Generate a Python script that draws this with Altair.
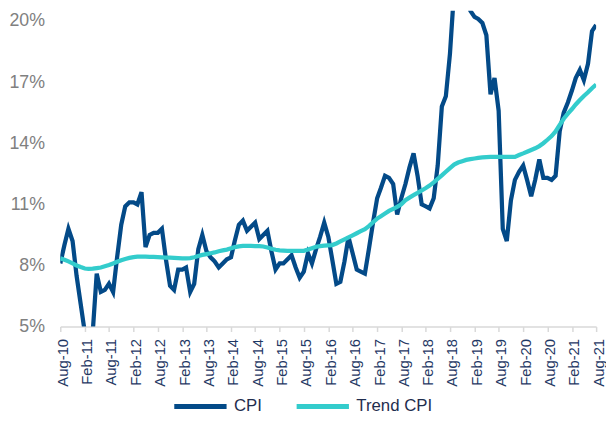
import altair as alt
import pandas as pd

# Monthly, Aug-2010 .. Aug-2021 (133 months)
cpi = [
    8.1, 9.0, 9.8, 9.2, 7.5, 6.1, 4.7, 4.0, 4.7, 7.6,
    6.7, 6.8, 7.1, 6.7, 8.4, 10.0, 10.9, 11.1, 11.1, 11.0,
    11.6, 8.9, 9.5, 9.6, 9.6, 9.8, 8.3, 7.0, 6.8, 7.8,
    7.8, 7.9, 6.7, 7.1, 8.8, 9.5, 8.7, 8.4, 8.2, 7.9,
    8.1, 8.3, 8.4, 9.2, 10.0, 10.2, 9.7, 9.9, 10.1, 9.3,
    9.5, 9.7, 8.7, 7.8, 8.1, 8.1, 8.3, 8.5, 7.9, 7.4,
    7.7, 8.6, 8.1, 8.8, 9.4, 10.1, 9.4, 8.3, 7.1, 7.2,
    8.2, 9.4, 8.6, 7.8, 7.7, 7.6, 8.8, 10.1, 11.3, 11.8,
    12.4, 12.3, 12.0, 10.5, 11.3, 12.0, 12.8, 13.5, 12.4, 11.0,
    10.9, 10.8, 11.3, 12.9, 15.8, 16.3, 18.4, 21.5, 23.5, 24.0,
    22.5, 20.5, 20.2, 20.1, 19.9, 19.3, 16.4, 17.2, 15.6, 9.8,
    9.2, 11.2, 12.2, 12.6, 12.9, 12.2, 11.4, 12.2, 13.2, 12.3,
    12.3, 12.2, 12.4, 14.6, 15.5, 16.0, 16.6, 17.2, 17.6, 17.1,
    17.9, 19.5, 19.8,
]
trend = [
    8.35, 8.28, 8.20, 8.10, 8.00, 7.92, 7.85, 7.83, 7.84, 7.87,
    7.90, 7.96, 8.02, 8.10, 8.18, 8.26, 8.32, 8.37, 8.41, 8.43,
    8.43, 8.43, 8.42, 8.42, 8.41, 8.40, 8.39, 8.38, 8.37, 8.36,
    8.35, 8.35, 8.36, 8.40, 8.46, 8.52, 8.56, 8.60, 8.64, 8.70,
    8.74, 8.78, 8.84, 8.90, 8.94, 8.96, 8.96, 8.96, 8.95, 8.95,
    8.93, 8.88, 8.82, 8.77, 8.74, 8.73, 8.72, 8.72, 8.72, 8.72,
    8.72, 8.78, 8.85, 8.92, 8.95, 8.97, 8.99, 9.00, 9.08, 9.18,
    9.28, 9.38, 9.48, 9.58, 9.68, 9.78, 9.93, 10.12, 10.30, 10.42,
    10.55, 10.68, 10.78, 10.88, 11.00, 11.20, 11.33, 11.45, 11.56, 11.68,
    11.80, 11.92, 12.08, 12.25, 12.42, 12.60, 12.78, 12.95, 13.05, 13.12,
    13.18, 13.22, 13.25, 13.28, 13.30, 13.32, 13.33, 13.33, 13.33, 13.33,
    13.33, 13.33, 13.33, 13.42, 13.50, 13.58, 13.67, 13.75, 13.86, 14.00,
    14.17, 14.35, 14.58, 14.90, 15.20, 15.45, 15.68, 15.90, 16.12, 16.32,
    16.50, 16.70, 16.88,
]
series_names = ["CPI", "Trend CPI"]
series_colors = ["#034A88", "#33CCCC"]
y_ticks = [5, 8, 11, 14, 17, 20]

dates = pd.date_range("2010-08-01", periods=len(cpi), freq="MS").strftime("%Y-%m-%d").tolist()

df = pd.concat([
    pd.DataFrame({"date": dates, "value": cpi, "series": "CPI"}),
    pd.DataFrame({"date": dates, "value": trend, "series": "Trend CPI"}),
])

tick_dates = []
y, m = 2010, 8
while (y, m) <= (2021, 8):
    tick_dates.append(alt.DateTime(year=y, month=m, date=1, utc=True))
    m += 6
    if m > 12:
        m -= 12
        y += 1

chart = alt.Chart(df).mark_line(clip=True, strokeWidth=4.3).encode(
    x=alt.X(
        "date:T",
        title=None,
        scale=alt.Scale(type="utc", domain=[alt.DateTime(year=2010, month=8, date=1, utc=True),
                                            alt.DateTime(year=2021, month=8, date=1, utc=True)]),
        axis=alt.Axis(
            values=tick_dates, labelExpr="utcFormat(datum.value, '%b-%y')", labelAngle=270,
            labelFont="Liberation Sans", labelFontSize=15, labelColor="#1F3864",
            labelPadding=7, labelOffset=2, domainColor="#D9D9D9", domainWidth=1.5,
            tickColor="#D9D9D9", tickSize=5, tickWidth=1.5, grid=False, labelOverlap=False,
        ),
    ),
    y=alt.Y(
        "value:Q",
        title=None,
        scale=alt.Scale(domain=[5, 20.5], nice=False, zero=False),
        axis=alt.Axis(
            values=y_ticks, labelExpr="datum.value + '%'", labelFont="Liberation Sans",
            labelFontSize=18, labelColor="#808080", labelPadding=16, ticks=False,
            domain=False, grid=False,
        ),
    ),
    color=alt.Color(
        "series:N",
        scale=alt.Scale(domain=series_names, range=series_colors),
        legend=alt.Legend(
            title=None, orient="none", legendX=113, legendY=372, direction="horizontal",
            symbolType="stroke", symbolSize=2809, symbolStrokeWidth=5,
            labelFont="Liberation Sans", labelFontSize=17, labelColor="#1F2D4E",
            labelOffset=5, columnPadding=24,
        ),
    ),
).properties(
    width=543, height=320,
    padding={"left": 53, "top": 0, "right": 10, "bottom": 104},
    autosize="none",
).configure_view(stroke=None)

chart.save("out.html", embed_options={"renderer": "svg", "actions": False})
